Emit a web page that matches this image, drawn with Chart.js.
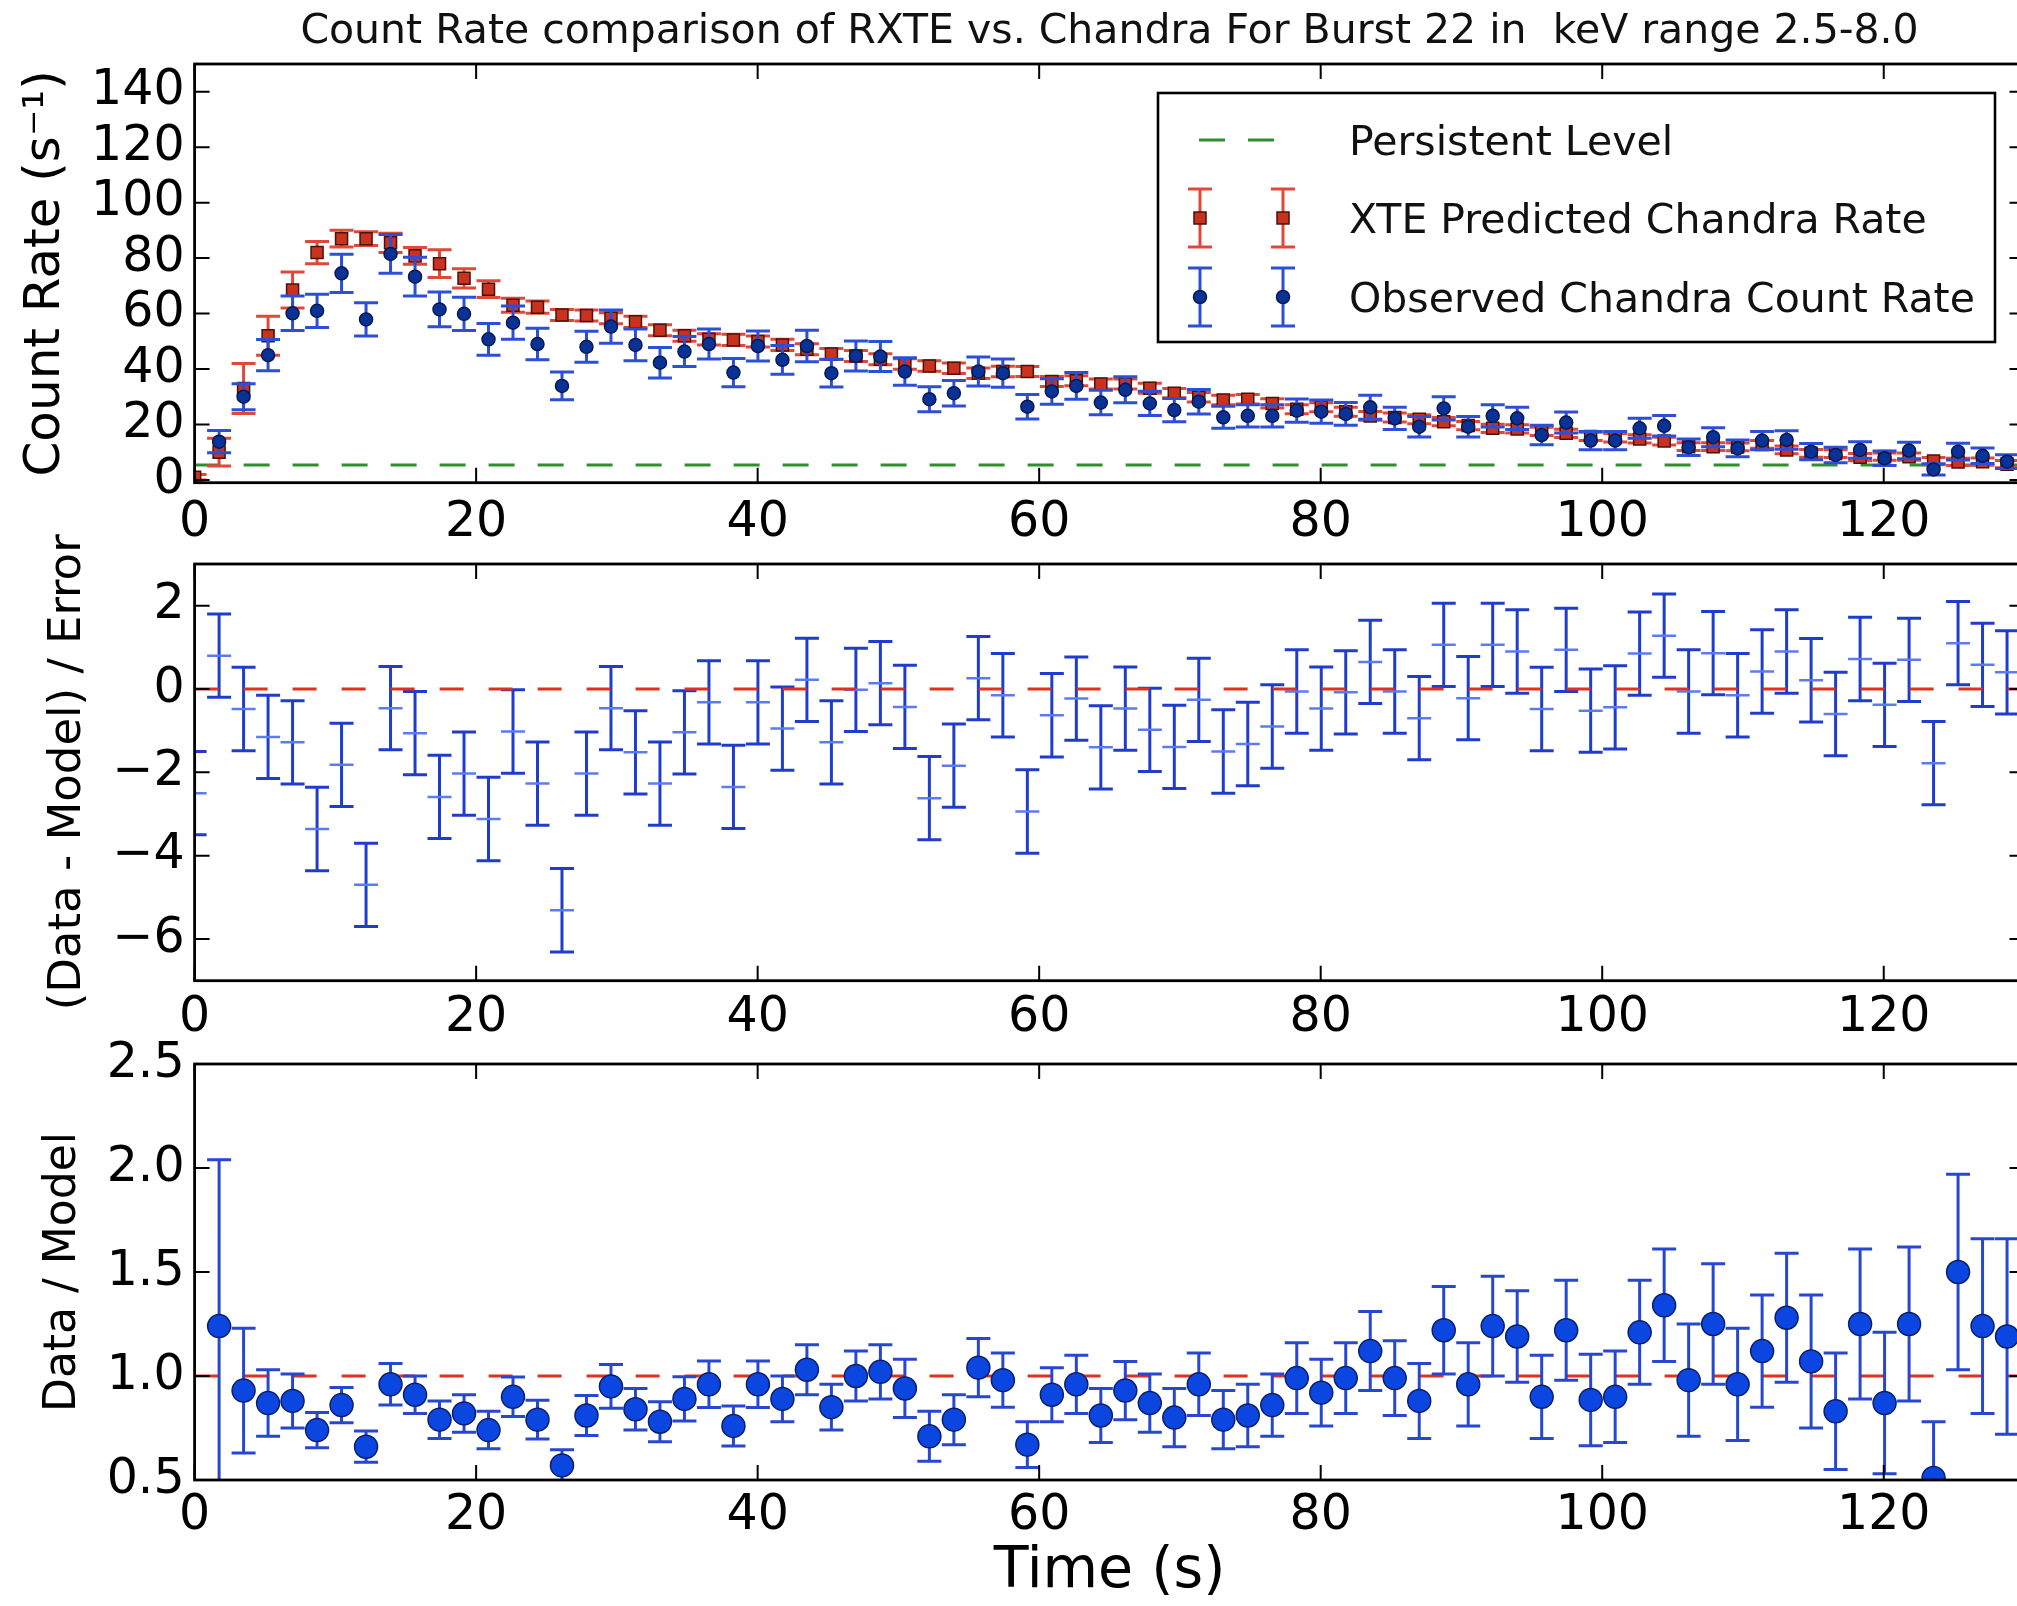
<!DOCTYPE html>
<html>
<head>
<meta charset="utf-8">
<script src="https://cdn.jsdelivr.net/npm/chart.js@4/dist/chart.umd.min.js"></script>
<style>
html, body { margin: 0; padding: 0; background: #fff; overflow: hidden; width: 2017px; height: 1606px; }
#wrap { position: relative; width: 2060px; height: 1606px; }
canvas { position: absolute; left: 0; top: 0; }
</style>
</head>
<body>
<div id="wrap">
<canvas id="cTop" width="2060" height="1606" style="width:2060px;height:1606px"></canvas>
<canvas id="cMid" width="2060" height="1606" style="width:2060px;height:1606px"></canvas>
<canvas id="cBot" width="2060" height="1606" style="width:2060px;height:1606px"></canvas>
</div>
<script>
// ---------------- DATA ----------------
const chartTitle = 'Count Rate comparison of RXTE vs. Chandra For Burst 22 in  keV range 2.5-8.0';
const seriesNames = ['Persistent Level', 'XTE Predicted Chandra Rate', 'Observed Chandra Count Rate'];

const times = [0, 1.74, 3.48, 5.22, 6.96, 8.7, 10.44, 12.18, 13.92, 15.66,
  17.4, 19.14, 20.88, 22.62, 24.36, 26.1, 27.84, 29.58, 31.32, 33.06,
  34.8, 36.54, 38.28, 40.02, 41.76, 43.5, 45.24, 46.98, 48.72, 50.46,
  52.2, 53.94, 55.68, 57.42, 59.16, 60.9, 62.64, 64.38, 66.12, 67.86,
  69.6, 71.34, 73.08, 74.82, 76.56, 78.3, 80.04, 81.78, 83.52, 85.26,
  87.0, 88.74, 90.48, 92.22, 93.96, 95.7, 97.44, 99.18, 100.92, 102.66,
  104.4, 106.14, 107.88, 109.62, 111.36, 113.1, 114.84, 116.58, 118.32, 120.06,
  121.8, 123.54, 125.28, 127.02, 128.76];

const predicted = [1, 10, 33, 52, 68.5, 82, 87, 87, 85.5, 80.8,
  78, 72.7, 68.8, 63, 62.3, 59.5, 59.3, 58.3, 57, 54,
  52, 50.7, 50.5, 49.9, 48.7, 47.1, 45.4, 44.7, 43.5, 41.8,
  41.1, 40.3, 38.5, 39.1, 39.1, 35.5, 35.8, 34.6, 34.6, 33.1,
  31.3, 29.8, 28.8, 29.1, 27.6, 25.5, 26.2, 24.6, 23.1, 22.5,
  21.9, 21, 19.6, 18.6, 18.4, 17.5, 16.8, 15.7, 15.2, 14.8,
  14, 12, 12, 11.9, 12.8, 10.8, 9.6, 9.5, 8.2, 8.4,
  8.4, 6.8, 6.5, 6.6, 5.7];

const predictedErr = [1, 5, 9, 7, 6.5, 4, 3, 2.5, 3.5, 3,
  5, 3.5, 3, 2.5, 2.2, 2, 2, 2, 2, 2,
  2, 2, 2, 2, 2, 2, 2, 2, 2, 1.9,
  1.9, 1.9, 1.9, 1.9, 1.8, 1.8, 1.8, 1.8, 1.8, 1.8,
  1.7, 1.7, 1.7, 1.7, 1.7, 1.6, 1.6, 1.6, 1.6, 1.6,
  1.6, 1.5, 1.5, 1.5, 1.5, 1.5, 1.5, 1.5, 1.5, 1.5,
  1.4, 1.4, 1.4, 1.4, 1.4, 1.4, 1.4, 1.4, 1.3, 1.3,
  1.3, 1.3, 1.3, 1.3, 1.3];

const observed = [null, 13.8, 30, 45, 60.1, 61, 74.5, 57.9, 81.5, 73.3,
  61.5, 59.9, 50.7, 56.7, 49, 33.9, 48, 55.3, 48.7, 42.3,
  46.3, 49, 38.7, 48.3, 43.3, 48.3, 38.5, 44.7, 44.5, 39.1,
  29.1, 31.3, 39.1, 38.5, 26.4, 31.9, 33.9, 27.9, 32.5, 27.6,
  25.2, 28.2, 22.6, 23.1, 23.1, 25.0, 24.6, 23.8, 26.2, 22.2,
  19.2, 25.8, 19.2, 23.1, 22.2, 16.2, 20.7, 14.2, 14.2, 18.6,
  19.5, 11.8, 15.4, 11.4, 14.2, 14.4, 10.2, 9.0, 10.8, 7.8,
  10.6, 3.8, 10.2, 8.7, 6.6];

const observedErr = [null, 4, 4.7, 5.6, 6.2, 6, 6.9, 6, 7, 7,
  6.3, 6, 5.7, 6, 5.7, 5, 5.6, 6, 5.7, 5.5,
  5.4, 5.4, 5.1, 5.4, 5.2, 5.7, 5, 5.4, 5.4, 5,
  4.5, 4.6, 5.2, 5.1, 4.4, 4.6, 4.8, 4.4, 4.7, 4.4,
  4.2, 4.4, 4, 4, 4, 4.2, 4.2, 4.1, 4.3, 4,
  3.7, 4.2, 3.7, 4, 4, 3.5, 3.8, 3.3, 3.3, 3.6,
  3.7, 3, 3.4, 3, 3.3, 3.3, 2.9, 2.8, 3, 2.6,
  3, 2, 3, 2.8, 2.5];

const persistentLevel = 5.4;

const residual = [-2.5, 0.8, -0.48, -1.15, -1.28, -3.36, -1.82, -4.7, -0.46, -1.06,
  -2.59, -2.03, -3.12, -1.02, -2.27, -5.31, -2.03, -0.46, -1.52, -2.27,
  -1.04, -0.32, -2.35, -0.32, -0.95, 0.22, -1.28, -0.02, 0.14, -0.43,
  -2.62, -1.84, 0.26, -0.15, -2.94, -0.63, -0.23, -1.40, -0.47, -0.98,
  -1.39, -0.26, -1.50, -1.32, -0.90, -0.06, -0.47, -0.08, 0.65, -0.06,
  -0.70, 1.06, -0.22, 1.06, 0.90, -0.48, 0.94, -0.52, -0.44, 0.85,
  1.28, -0.06, 0.86, -0.15, 0.42, 0.90, 0.21, -0.60, 0.72, -0.38,
  0.70, -1.78, 1.10, 0.58, 0.40];

const residualErr = [1, 1, 1, 1, 1, 1, 1, 1, 1, 1,
  1, 1, 1, 1, 1, 1, 1, 1, 1, 1,
  1, 1, 1, 1, 1, 1, 1, 1, 1, 1,
  1, 1, 1, 1, 1, 1, 1, 1, 1, 1,
  1, 1, 1, 1, 1, 1, 1, 1, 1, 1,
  1, 1, 1, 1, 1, 1, 1, 1, 1, 1,
  1, 1, 1, 1, 1, 1, 1, 1, 1, 1,
  1, 1, 1, 1, 1];

const residualLevel = 0;

const ratio = [null, 1.24, 0.93, 0.87, 0.88, 0.74, 0.86, 0.66, 0.96, 0.91,
  0.79, 0.82, 0.74, 0.90, 0.79, 0.57, 0.81, 0.95, 0.84, 0.78,
  0.89, 0.96, 0.76, 0.96, 0.89, 1.03, 0.85, 1.00, 1.02, 0.94,
  0.71, 0.79, 1.04, 0.98, 0.67, 0.91, 0.96, 0.81, 0.93, 0.87,
  0.80, 0.96, 0.79, 0.81, 0.86, 0.99, 0.92, 0.99, 1.12, 0.99,
  0.88, 1.22, 0.96, 1.24, 1.19, 0.90, 1.22, 0.885, 0.90, 1.21,
  1.34, 0.98, 1.25, 0.96, 1.12, 1.28, 1.07, 0.83, 1.25, 0.87,
  1.25, 0.51, 1.50, 1.24, 1.19];

const ratioErr = [null, 0.8, 0.3, 0.16, 0.13, 0.085, 0.085, 0.075, 0.1, 0.09,
  0.09, 0.09, 0.09, 0.095, 0.093, 0.076, 0.096, 0.105, 0.1, 0.096,
  0.106, 0.112, 0.096, 0.112, 0.11, 0.12, 0.11, 0.12, 0.13, 0.14,
  0.12, 0.12, 0.14, 0.13, 0.11, 0.13, 0.14, 0.13, 0.14, 0.14,
  0.14, 0.15, 0.14, 0.15, 0.15, 0.17, 0.16, 0.17, 0.19, 0.18,
  0.18, 0.21, 0.2, 0.24, 0.22, 0.2, 0.24, 0.22, 0.22, 0.25,
  0.27, 0.27, 0.29, 0.27, 0.27, 0.31, 0.32, 0.28, 0.36, 0.34,
  0.37, 0.27, 0.47, 0.42, 0.47];

const ratioLevel = 1;

const timeTicks = [0, 20, 40, 60, 80, 100, 120];
const countTicks = [0, 20, 40, 60, 80, 100, 120, 140];
const residTicks = [-6, -4, -2, 0, 2];
const ratioTicks = [0.5, 1.0, 1.5, 2.0, 2.5];

// ---------------- STYLE / LAYOUT ----------------
Chart.defaults.font.family = '"DejaVu Sans", sans-serif';
Chart.defaults.color = '#000';

const W = 2060, H = 1606;
const PLOT_LEFT = 194.6, PLOT_RIGHT = 2024.5;
const X_MIN = 0, X_MAX = 130;
const TICK_FONT = 49;

const GREEN = '#2f8f2f';
const RED_LINE = '#e0301e';

function pts(ys) { return times.map((t, i) => ({ x: t, y: ys[i] })); }
function level(v) { return [{ x: X_MIN, y: v }, { x: X_MAX, y: v }]; }

const errBarPlugin = {
  id: 'errBars',
  beforeDatasetDraw(chart, args) {
    const ds = chart.data.datasets[args.index];
    if (!ds.errors) return;
    const { ctx, chartArea: a } = chart;
    const xs = chart.scales.x, ys = chart.scales.y;
    ctx.save();
    ctx.beginPath();
    ctx.rect(a.left, a.top, a.right - a.left, a.bottom - a.top);
    ctx.clip();
    ctx.strokeStyle = ds.errColor;
    ctx.lineWidth = ds.errWidth;
    ctx.beginPath();
    ds.data.forEach((p, i) => {
      const e = ds.errors[i];
      if (p.y === null || p.y === undefined || e === null || e === undefined) return;
      const px = xs.getPixelForValue(p.x);
      const y1 = ys.getPixelForValue(p.y - e);
      const y2 = ys.getPixelForValue(p.y + e);
      const c = ds.capHalf;
      ctx.moveTo(px, y1); ctx.lineTo(px, y2);
      ctx.moveTo(px - c, y1); ctx.lineTo(px + c, y1);
      ctx.moveTo(px - c, y2); ctx.lineTo(px + c, y2);
    });
    ctx.stroke();
    ctx.restore();
  }
};

const framePlugin = {
  id: 'frame',
  afterDatasetsDraw(chart) {
    const { ctx, chartArea: a } = chart;
    const xs = chart.scales.x, ys = chart.scales.y;
    const L = 15;
    ctx.save();
    ctx.strokeStyle = '#000';
    ctx.lineWidth = 2;
    ctx.beginPath();
    xs.ticks.forEach(t => {
      const p = xs.getPixelForValue(t.value);
      ctx.moveTo(p, a.bottom); ctx.lineTo(p, a.bottom - L);
      ctx.moveTo(p, a.top); ctx.lineTo(p, a.top + L);
    });
    ys.ticks.forEach(t => {
      const p = ys.getPixelForValue(t.value);
      ctx.moveTo(a.left, p); ctx.lineTo(a.left + L, p);
      ctx.moveTo(a.right, p); ctx.lineTo(a.right - L, p);
    });
    ctx.stroke();
    ctx.lineWidth = 2.8;
    ctx.strokeRect(a.left, a.top, a.right - a.left, a.bottom - a.top);
    ctx.restore();
  }
};

const titlePlugin = {
  id: 'topTitle',
  afterDraw(chart) {
    const { ctx, chartArea: a } = chart;
    ctx.save();
    ctx.font = '41px "DejaVu Sans"';
    ctx.fillStyle = '#111';
    ctx.textAlign = 'center';
    ctx.textBaseline = 'middle';
    ctx.fillText(chartTitle, (a.left + a.right) / 2, 32);
    ctx.restore();
  }
};

function drawErrMarker(ctx, x, y, half, cap, lineColor, lw) {
  ctx.strokeStyle = lineColor; ctx.lineWidth = lw;
  ctx.beginPath();
  ctx.moveTo(x, y - half); ctx.lineTo(x, y + half);
  ctx.moveTo(x - cap, y - half); ctx.lineTo(x + cap, y - half);
  ctx.moveTo(x - cap, y + half); ctx.lineTo(x + cap, y + half);
  ctx.stroke();
}

const legendPlugin = {
  id: 'legendBox',
  afterDraw(chart) {
    const ctx = chart.ctx;
    const bx = 1158, by = 93, bw = 837, bh = 249;
    ctx.save();
    ctx.fillStyle = '#fff';
    ctx.fillRect(bx, by, bw, bh);
    ctx.strokeStyle = '#000';
    ctx.lineWidth = 2.6;
    ctx.strokeRect(bx, by, bw, bh);
    // persistent
    ctx.strokeStyle = GREEN; ctx.lineWidth = 3;
    ctx.setLineDash([26, 23]);
    ctx.beginPath(); ctx.moveTo(1199, 140); ctx.lineTo(1274, 140); ctx.stroke();
    ctx.setLineDash([]);
    // predicted
    [1200, 1283].forEach(x => {
      drawErrMarker(ctx, x, 218, 29, 12, '#e0483a', 3);
      ctx.fillStyle = '#c8321e'; ctx.strokeStyle = '#4a120a'; ctx.lineWidth = 1.5;
      ctx.fillRect(x - 6, 212, 12, 12); ctx.strokeRect(x - 6, 212, 12, 12);
    });
    // observed
    [1200, 1283].forEach(x => {
      drawErrMarker(ctx, x, 297, 29, 12, '#2c4fd8', 3);
      ctx.fillStyle = '#0a3296'; ctx.strokeStyle = '#061a50'; ctx.lineWidth = 1.5;
      ctx.beginPath(); ctx.arc(x, 297, 6.5, 0, Math.PI * 2); ctx.fill(); ctx.stroke();
    });
    ctx.font = '41px "DejaVu Sans"';
    ctx.fillStyle = '#111';
    ctx.textAlign = 'left';
    ctx.textBaseline = 'middle';
    ctx.fillText(seriesNames[0], 1349, 144);
    ctx.fillText(seriesNames[1], 1349, 222);
    ctx.fillText(seriesNames[2], 1349, 301);
    ctx.restore();
  }
};

function xAxis(axisHeight, labelPad, title) {
  return {
    type: 'linear', position: 'bottom', min: X_MIN, max: X_MAX,
    afterBuildTicks: s => { s.ticks = timeTicks.map(v => ({ value: v })); },
    afterFit: s => { s.height = axisHeight; },
    grid: { display: false, drawTicks: false },
    border: { display: false },
    ticks: { font: { size: TICK_FONT }, padding: labelPad, maxRotation: 0, minRotation: 0, autoSkip: false, color: '#000',
             callback: v => String(v) },
    title: title ? { display: true, text: title, font: { size: 57 }, padding: { top: 0, bottom: 0 }, color: '#000' }
                 : { display: false }
  };
}

function yAxis(min, max, tickArr, fmt, title, titleSize, titlePad) {
  return {
    type: 'linear', position: 'left', min: min, max: max,
    afterBuildTicks: s => { s.ticks = tickArr.map(v => ({ value: v })); },
    afterFit: s => { s.width = PLOT_LEFT; },
    grid: { display: false, drawTicks: false },
    border: { display: false },
    ticks: { font: { size: TICK_FONT }, padding: 10, autoSkip: false, color: '#000', callback: fmt },
    title: { display: true, text: title, font: { size: titleSize }, padding: { top: titlePad, bottom: 0 }, color: '#000' }
  };
}

function baseOptions(padTop, padBottom, scales) {
  return {
    responsive: false, animation: false, events: [],
    devicePixelRatio: 1,
    layout: { padding: { left: 0, right: W - PLOT_RIGHT, top: padTop, bottom: padBottom } },
    plugins: { legend: { display: false }, tooltip: { enabled: false }, title: { display: false } },
    scales: scales
  };
}

// ---------------- TOP PANEL ----------------
new Chart(document.getElementById('cTop'), {
  type: 'scatter',
  data: {
    datasets: [
      { label: seriesNames[2], data: pts(observed), errors: observedErr, errColor: '#2c4fd8', errWidth: 3, capHalf: 12,
        pointStyle: 'circle', pointRadius: 6.5, backgroundColor: '#0a3296', borderColor: '#061a50', borderWidth: 1.5,
        order: 0, clip: 0 },
      { label: seriesNames[1], data: pts(predicted), errors: predictedErr, errColor: '#e0483a', errWidth: 3, capHalf: 12,
        pointStyle: 'rect', pointRadius: 8.5, backgroundColor: '#c8321e', borderColor: '#4a120a', borderWidth: 1.5,
        order: 1, clip: 0 },
      { label: seriesNames[0], data: level(persistentLevel), showLine: true, borderColor: GREEN, borderWidth: 3,
        borderDash: [26, 23], pointRadius: 0, order: 2, clip: 0 }
    ]
  },
  options: baseOptions(64, H - 482.7 - 90, {
    x: xAxis(90, 11, null),
    y: yAxis(-1, 150, countTicks, v => String(v), 'Count Rate (s\u207B\u00B9)', 50, 16)
  }),
  plugins: [errBarPlugin, framePlugin, titlePlugin, legendPlugin]
});

// ---------------- MIDDLE PANEL ----------------
new Chart(document.getElementById('cMid'), {
  type: 'scatter',
  data: {
    datasets: [
      { label: 'zero', data: level(residualLevel), showLine: true, borderColor: RED_LINE, borderWidth: 3,
        borderDash: [24, 25], pointRadius: 0, order: 0, clip: 0 },
      { label: '(Data - Model) / Error', data: pts(residual), errors: residualErr, errColor: '#1f3ccc', errWidth: 3, capHalf: 12,
        pointStyle: 'line', pointRadius: 12, borderColor: '#5a7cf0', borderWidth: 2.5, backgroundColor: '#5a7cf0',
        order: 1, clip: 0 }
    ]
  },
  options: baseOptions(564, H - 980.7 - 80, {
    x: xAxis(80, 8, null),
    y: yAxis(-7, 3, residTicks, v => (v < 0 ? '\u2212' + Math.abs(v) : String(v)), '(Data - Model) / Error', 45, 41)
  }),
  plugins: [errBarPlugin, framePlugin]
});

// ---------------- BOTTOM PANEL ----------------
new Chart(document.getElementById('cBot'), {
  type: 'scatter',
  data: {
    datasets: [
      { label: 'Data / Model', data: pts(ratio), errors: ratioErr, errColor: '#2747d0', errWidth: 3, capHalf: 12,
        pointStyle: 'circle', pointRadius: 11.5, backgroundColor: '#0c46e0', borderColor: '#0a1f6a', borderWidth: 1.5,
        order: 0, clip: 0 },
      { label: 'unity', data: level(ratioLevel), showLine: true, borderColor: RED_LINE, borderWidth: 3,
        borderDash: [24, 25], pointRadius: 0, order: 1, clip: 0 }
    ]
  },
  options: baseOptions(1064, 0, {
    x: xAxis(H - 1480, 7, 'Time (s)'),
    y: yAxis(0.5, 2.5, ratioTicks, v => v.toFixed(1), 'Data / Model', 44, 37)
  }),
  plugins: [errBarPlugin, framePlugin]
});
</script>
</body>
</html>
